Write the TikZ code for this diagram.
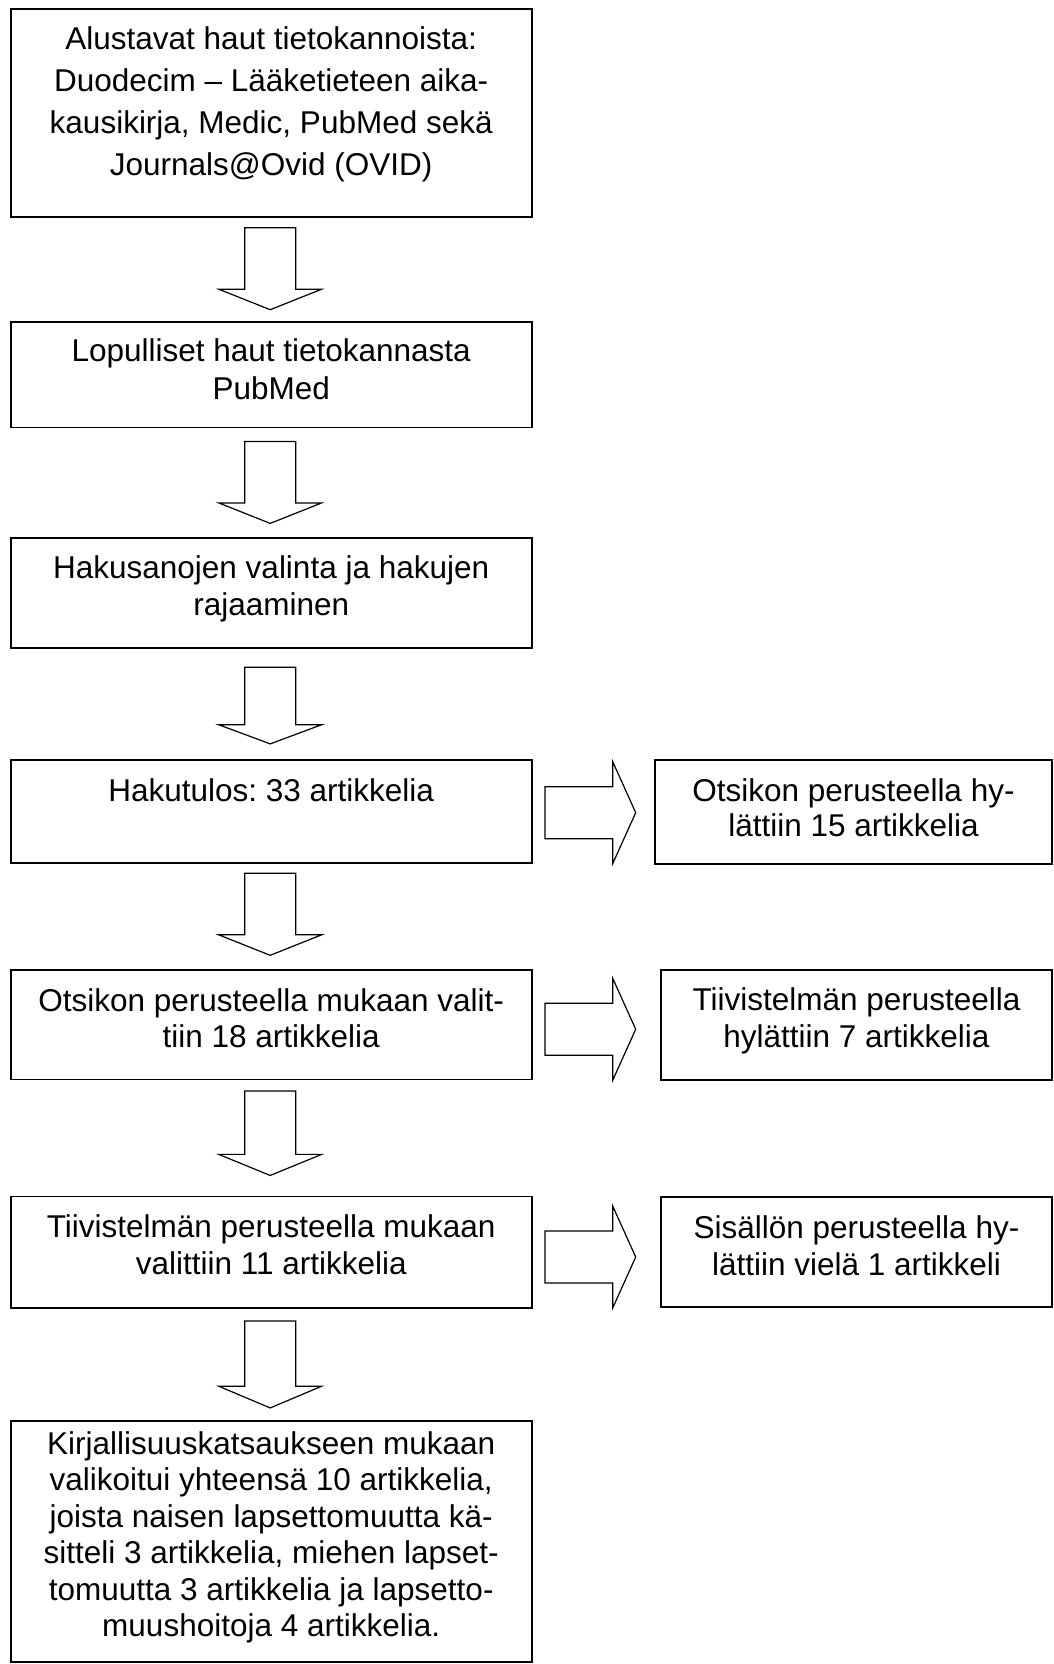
\documentclass[tikz,border=0pt]{standalone}
\usepackage{fontspec}
\setmainfont{Liberation Sans}
\usetikzlibrary{calc}
\frenchspacing
\newcommand\bxtxt[2]{\parbox[t]{510pt}{\centering\frenchspacing\fontsize{31.5}{#1}\selectfont #2}}
\tikzset{
  boxst/.style={draw=black, line width=1.8pt, inner sep=0pt, outer sep=0pt, rectangle},
  txtst/.style={inner sep=0pt, outer sep=0pt, anchor=base},
  arrst/.style={draw=black, line width=1.2pt, line join=miter},
  downarr/.pic={\draw[arrst] (-25.5,0) -- (-25.5,61.5) -- (-51.5,61.5) -- (0,82) -- (51.5,61.5) -- (25.5,61.5) -- (25.5,0) -- cycle;},
  rightarr/.pic={\draw[arrst] (0,-26) -- (67.7,-26) -- (67.7,-51) -- (90.7,0) -- (67.7,51) -- (67.7,26) -- (0,26) -- cycle;}
}
\begin{document}
\begin{tikzpicture}[x=1pt, y=-1pt]
\useasboundingbox (0,0) rectangle (1054,1664);
% left column boxes
\node[boxst, minimum width=521pt, minimum height=207.7pt] (b1) at (271.2,112.85) {};
\node[boxst, minimum width=521pt, minimum height=105.7pt] (b2) at (271.2,374.55) {};
\node[boxst, minimum width=521pt, minimum height=109.4pt] (b3) at (271.2,593) {};
\node[boxst, minimum width=521pt, minimum height=103.3pt] (b4) at (271.2,811.65) {};
\node[boxst, minimum width=521pt, minimum height=109.5pt] (b5) at (271.2,1024.75) {};
\node[boxst, minimum width=521pt, minimum height=111.8pt] (b6) at (271.2,1252.4) {};
\node[boxst, minimum width=521pt, minimum height=241.3pt] (b7) at (271.2,1541.35) {};
% right column boxes
\node[boxst, minimum width=397pt, minimum height=104pt] (r1) at (853.5,812) {};
\node[boxst, minimum width=391pt, minimum height=110pt] (r2) at (856.5,1025) {};
\node[boxst, minimum width=391pt, minimum height=110pt] (r3) at (856.5,1251.7) {};
% texts
\node[txtst] (t1) at ($(b1.north)+(0,41)$) {\bxtxt{42}{Alustavat haut tietokannoista:\\Duodecim – Lääketieteen aika-\\kausikirja, Medic, PubMed sekä\\Journals@Ovid (OVID)}};
\node[txtst] (t2) at ($(b2.north)+(0,40)$) {\bxtxt{37.6}{Lopulliset haut tietokannasta\\PubMed}};
\node[txtst] (t3) at ($(b3.north)+(0,40)$) {\bxtxt{37.4}{Hakusanojen valinta ja hakujen\\rajaaminen}};
\node[txtst] (t4) at ($(b4.north)+(0,41)$) {\bxtxt{37}{Hakutulos: 33 artikkelia}};
\node[txtst] (t5) at ($(b5.north)+(0,41.7)$) {\bxtxt{35.5}{Otsikon perusteella mukaan valit-\\tiin 18 artikkelia}};
\node[txtst] (t6) at ($(b6.north)+(0,40.5)$) {\bxtxt{37.6}{Tiivistelmän perusteella mukaan\\valittiin 11 artikkelia}};
\node[txtst] (t7) at ($(b7.north)+(0,33.6)$) {\bxtxt{36.5}{Kirjallisuuskatsaukseen mukaan\\valikoitui yhteensä 10 artikkelia,\\joista naisen lapsettomuutta kä-\\sitteli 3 artikkelia, miehen lapset-\\tomuutta 3 artikkelia ja lapsetto-\\muushoitoja 4 artikkelia.}};
\node[txtst] (s1) at ($(r1.north)+(0,41.7)$) {\bxtxt{34.5}{Otsikon perusteella hy-\\lättiin 15 artikkelia}};
\node[txtst] (s2) at ($(r2.north)+(0,40)$) {\bxtxt{37.3}{Tiivistelmän perusteella\\hylättiin 7 artikkelia}};
\node[txtst] (s3) at ($(r3.north)+(0,41.6)$) {\bxtxt{36.7}{Sisällön perusteella hy-\\lättiin vielä 1 artikkeli}};
% down block arrows
\path ($(b1.south)+(-1,11)$) pic {downarr};
\path ($(b2.south)+(-1,14)$) pic {downarr};
\path ($(b3.south)+(-1,19.5)$) pic[yscale=0.935] {downarr};
\path ($(b4.south)+(-1,10)$) pic {downarr};
\path ($(b5.south)+(-1,11.5)$) pic[yscale=1.03] {downarr};
\path ($(b6.south)+(-1,12.7)$) pic[yscale=1.06] {downarr};
% right block arrows
\path ($(b4.east)+(13.3,1)$) pic {rightarr};
\path ($(b5.east)+(13.3,4.5)$) pic {rightarr};
\path ($(b6.east)+(13.3,4.6)$) pic {rightarr};
\end{tikzpicture}
\end{document}
